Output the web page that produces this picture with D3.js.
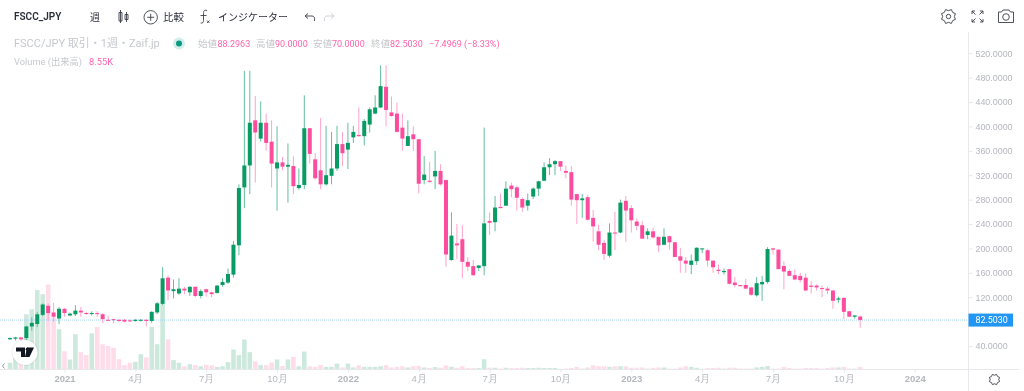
<!DOCTYPE html>
<html>
<head>
<meta charset="utf-8">
<script src="https://cdn.jsdelivr.net/npm/d3@7"></script>
<style>
  html, body { margin: 0; padding: 0; background: #fff; }
  svg { display: block; filter: blur(0.3px); font-family: Roboto, "Noto Sans CJK JP", sans-serif; }
</style>
</head>
<body>
<svg id="chart" width="1024" height="391"></svg>
<script>
// weekly FSCC/JPY
let opens = [51,52,54,53,72,76,91,106,95,85,101,90,92,98,94,93,94,92,83,84,
  83,83,82,81,82,83,81,95,109,152,130,126,134,128,137,122,133,128,127,140,
  144,157,205,300,336,410,380,406,375,331,341,334,335,299,304,397,346,328,305,319,
  331,371,362,382,386,384,403,421,431,465,423,421,398,368,387,379,312,311,318,327,
  312,181,208,215,178,171,168,171,245,243,268,270,303,300,281,270,285,298,311,333,
  338,343,327,325,289,279,284,250,228,209,188,226,226,278,266,244,238,222,228,219,
  206,220,210,187,180,173,179,199,197,180,165,161,166,144,140,140,136,123,141,145,
  200,198,171,163,156,155,152,139,139,135,134,131,116,119,97,88,88.2963];
let highs = [54,55,55,73,87,96,110,110,111,104,102,95,107,104,96,97,97,94,90,84,
  84,84,84,84,84,84,97,112,169,156,149,151,137,138,138,133,134,129,140,151,
  167,212,305,491,491,450,441,421,410,400,350,372,351,331,451,397,356,414,401,391,
  401,391,406,401,431,412,431,451,500,500,449,439,421,410,400,379,351,342,360,338,
  313,259,240,238,186,181,172,398,259,286,290,310,308,303,284,290,300,311,341,348,
  345,343,336,335,289,289,288,263,239,214,241,260,280,286,271,249,245,233,234,219,
  233,221,210,201,186,190,202,200,199,180,174,167,166,153,140,150,137,153,155,202,
  201,198,179,166,166,160,159,147,141,139,137,131,121,119,97,91,90];
let lows = [50,49,49,47,65,71,89,81,80,76,88,89,89,88,91,90,88,78,81,77,
  79,79,79,80,80,72,78,92,107,115,118,124,125,122,120,118,121,120,126,137,
  142,152,189,266,289,308,375,360,300,262,328,275,289,296,297,339,313,297,303,305,
  327,335,330,373,383,369,390,420,430,400,416,390,360,368,360,290,305,308,297,303,
  170,180,182,151,163,155,163,156,222,228,266,270,284,262,260,262,281,286,310,320,
  320,327,315,270,240,250,246,211,197,181,185,197,225,211,226,230,215,215,216,194,
  205,198,186,160,160,158,173,192,170,160,158,157,141,136,138,134,122,121,114,142,
  190,166,133,155,148,144,130,126,131,120,125,101,111,84,88,85,70];
let closes = [53,54,51,72,78,92,108,94,88,101,94,93,98,95,93,94,93,84,82,83,
  81,80,81,83,83,81,96,110,151,131,133,134,131,137,122,130,128,125,139,145,
  158,206,299,336,406,390,406,373,339,341,334,337,302,304,397,355,315,305,320,331,
  371,356,373,391,384,409,428,431,466,427,417,391,380,384,379,306,321,309,327,305,
  190,221,205,178,170,156,172,241,242,267,266,298,297,283,267,279,298,310,333,338,
  343,334,324,280,279,282,247,236,206,191,226,225,275,262,246,237,216,228,218,205,
  219,210,186,180,175,180,201,200,180,169,163,163,142,140,138,134,124,143,145,199,
  198,166,162,155,149,148,131,137,136,134,131,114,118,96,88,90,82.503];
// volume in thousands
let volumes = [23,40,26,188,205,270,256,289,177,137,62,34,120,59,49,123,145,86,80,74,
  35,15,23,26,52,41,145,86,222,102,32,23,11,18,15,11,16,14,9,11,
  25,68,49,102,59,28,15,15,24,34,12,34,43,11,61,11,9,15,9,9,
  20,7,20,7,14,9,9,9,11,15,7,9,11,7,11,12,7,5,8,6,
  14,9,6,11,5,5,5,35,6,6,3,6,5,5,6,5,5,6,5,5,
  5,2,3,5,9,3,7,14,11,11,9,11,11,11,6,6,7,3,6,7,
  7,3,3,7,11,9,6,2,5,5,6,3,6,6,3,3,3,7,9,12,
  3,3,9,5,3,3,5,5,5,3,5,7,7,9,3,3,8.55];

let priceTicks = [40,120,160,200,240,280,320,360,400,440,480,520];
let lastPrice = 82.503;

// 2021 falls on bar 10, one label every 13 weeks from there
let timeTickIdx = [10,23,36,49,62,75,88,101,114,127,140,153,166];
let timeTickLabels = ['2021','4月','7月','10月','2022','4月','7月','10月','2023','4月','7月','10月','2024'];
let yearLabels = ['2021','2022','2023','2024'];

let upColor = '#089c64', downColor = '#fb4c9d';
let upWick = '#62bf9c', downWick = '#ffa3cb';
let upVol = '#cde9dd', downVol = '#ffdcea';
let gray = '#b4b7bd', lineGray = '#e6e8ec';

let svg = d3.select('#chart');
let axisX = 968.5, axisY = 369.5;

let xPos = d3.scaleLinear().domain([0, 166]).range([10, 914.7]);
let yPos = d3.scaleLinear().domain([0, 520]).range([370.4, 53.2]);
let volY = d3.scaleLinear().domain([0, 300]).range([axisY, axisY - 88.2]);

let bars = opens.map((o, i) => ({
  i, o, h: highs[i], l: lows[i], c: closes[i], v: volumes[i], up: closes[i] >= o,
}));

// volume underneath
svg.append('g').selectAll('rect').data(bars).join('rect')
  .attr('x', (d) => xPos(d.i) - 2.3)
  .attr('width', 4.6)
  .attr('y', (d) => volY(d.v))
  .attr('height', (d) => axisY - volY(d.v))
  .attr('fill', (d) => (d.up ? upVol : downVol));

// last price line
svg.append('line')
  .attr('x1', 0).attr('x2', axisX)
  .attr('y1', yPos(lastPrice)).attr('y2', yPos(lastPrice))
  .attr('stroke', '#a5d9f7').attr('stroke-width', 1).attr('stroke-dasharray', '1 1');

// candles
let candles = svg.append('g').selectAll('g').data(bars).join('g');
candles.append('line')
  .attr('x1', (d) => xPos(d.i)).attr('x2', (d) => xPos(d.i))
  .attr('y1', (d) => yPos(d.h)).attr('y2', (d) => yPos(d.l))
  .attr('stroke', (d) => (d.up ? upWick : downWick));
candles.append('rect')
  .attr('x', (d) => xPos(d.i) - 2)
  .attr('width', 4)
  .attr('y', (d) => yPos(Math.max(d.o, d.c)))
  .attr('height', (d) => Math.max(1, Math.abs(yPos(d.o) - yPos(d.c))))
  .attr('fill', (d) => (d.up ? upColor : downColor));

// axes
let priceAxis = svg.append('g')
  .attr('transform', `translate(${axisX},0)`)
  .call(d3.axisRight(yPos).tickValues(priceTicks).tickFormat(d3.format('.4f')).tickSize(4).tickPadding(3));
priceAxis.select('.domain').remove();
priceAxis.selectAll('line').attr('stroke', lineGray);
priceAxis.selectAll('text').attr('fill', gray).style('font-size', '8.9px');

let timeAxis = svg.append('g')
  .attr('transform', `translate(0,${axisY})`)
  .call(d3.axisBottom(xPos).tickValues(timeTickIdx)
    .tickFormat((d, i) => timeTickLabels[i]).tickSize(3).tickPadding(3));
timeAxis.select('.domain').remove();
timeAxis.selectAll('line').attr('stroke', lineGray);
timeAxis.selectAll('text')
  .attr('fill', gray)
  .style('font-size', '9.5px')
  .style('font-weight', (d, i) => (yearLabels.includes(timeTickLabels[i]) ? 700 : 400));

svg.append('line').attr('x1', 0).attr('x2', 1019).attr('y1', axisY).attr('y2', axisY).attr('stroke', lineGray);
svg.append('line').attr('x1', axisX).attr('x2', axisX).attr('y1', 32).attr('y2', 391).attr('stroke', lineGray);

// last price tag
svg.append('rect')
  .attr('x', axisX).attr('width', 44.5)
  .attr('y', yPos(lastPrice) - 6.5).attr('height', 13)
  .attr('fill', '#2196f3');
svg.append('text')
  .attr('x', 975.5).attr('y', yPos(lastPrice) + 3.2)
  .attr('fill', '#fff').style('font-size', '8.9px')
  .text(d3.format('.4f')(lastPrice));

function label(x, y, txt, color, size, weight) {
  return svg.append('text').attr('x', x).attr('y', y).attr('fill', color)
    .style('font-size', size + 'px').style('font-weight', weight || 400).text(txt);
}

// toolbar
let dark = '#2a2e39';
label(14, 20, 'FSCC_JPY', dark, 10, 600);
label(90, 20.5, '週', dark, 10);
label(163, 20.5, '比較', dark, 10.5);
label(218, 20.5, 'インジケーター', dark, 10);

let icons = svg.append('g').attr('fill', 'none').attr('stroke', '#3a3e49').attr('stroke-width', 0.9);
icons.append('path').attr('d', 'M119 12.500h3v8.500h-3zM120.500 10v13M125 14.500h3v5h-3zM126.500 12v10');
icons.append('circle').attr('cx', 150.700).attr('cy', 17.300).attr('r', 6.700);
icons.append('path').attr('d', 'M147.200 17.300h7M150.700 13.800v7');
icons.append('path').attr('d', 'M207 10.500c-3-1-3.500 1-3.500 3v7c0 2-1 3-2.800 2.500M200.500 15.500h6');
icons.append('path').attr('d', 'M207 20.500l2.500 2.500M209.500 20.500l-2.500 2.500');
icons.append('path').attr('d', 'M305 16l3-2.500M305 16l3 2.500M305 16h7c2 0 3 1.500 2.500 5');
icons.append('path').attr('d', 'M334 16l-3-2.500M334 16l-3 2.500M334 16h-7c-2 0-3 1.500-2.500 5').attr('stroke', '#c9ccd2');
// gear, top right and bottom right
function gear(cx, cy, r) {
  let pts = d3.range(16).map((k) => {
    let a = (k * Math.PI) / 8;
    let rr = k % 2 ? r : r * 0.78;
    return [cx + rr * Math.cos(a), cy + rr * Math.sin(a)];
  });
  icons.append('path').attr('d', d3.line().curve(d3.curveLinearClosed)(pts));
}
gear(948.500, 16.500, 7.500);
icons.append('circle').attr('cx', 948.500).attr('cy', 16.500).attr('r', 2.200);
gear(994.500, 379.500, 5.500);
icons.append('path').attr('d', 'M972 11l3.500 3.500M972 11h3M972 11v3M983 11l-3.500 3.500M983 11h-3M983 11v3M972 22l3.500-3.500M972 22h3M972 22v-3M983 22l-3.500-3.500M983 22h-3M983 22v-3');
icons.append('path').attr('d', 'M998.500 12h3l1.500-2h6l1.500 2h3v10.500h-15z');
icons.append('circle').attr('cx', 1006).attr('cy', 17).attr('r', 3.300);

// legend rows
let soft = '#c6c8cd', pink = '#fc64ae';
label(14, 47, 'FSCC/JPY 取引・1週・Zaif.jp', soft, 11);
svg.append('circle').attr('cx', 179).attr('cy', 43.500).attr('r', 6).attr('fill', '#d3eeea');
svg.append('circle').attr('cx', 179).attr('cy', 43.500).attr('r', 3).attr('fill', '#089981');
label(198, 47, '始値', soft, 9.500);
label(217.500, 47, d3.format('.4f')(opens[156]), pink, 9);
label(256, 47, '高値', soft, 9.500);
label(275, 47, d3.format('.4f')(highs[156]), pink, 9);
label(313, 47, '安値', soft, 9.500);
label(332, 47, d3.format('.4f')(lows[156]), pink, 9);
label(371, 47, '終値', soft, 9.500);
label(390, 47, d3.format('.4f')(closes[156]), pink, 9);
label(429, 47, '−7.4969 (−8.33%)', pink, 9);
label(14, 64.500, 'Volume (出来高)', soft, 9.300);
label(89, 64.500, '8.55K', pink, 9.300);

// left scroll chevron
svg.append('path').attr('d', 'M4.500 363.500l-2 2.500 2 2.500').attr('fill', 'none').attr('stroke', '#9a9da5');

// logo badge
let logo = svg.append('g');
logo.append('circle').attr('cx', 25).attr('cy', 352.500).attr('r', 13.500).attr('fill', '#000').attr('opacity', 0.06);
logo.append('circle').attr('cx', 25).attr('cy', 352.500).attr('r', 12.500).attr('fill', '#fff');
logo.append('path').attr('fill', '#131722').attr('d', 'M16 347.500h9v9.500h-4v-5.500h-5zM27 347.500h7l-4.500 9.500h-4.500z');
logo.append('circle').attr('cx', 27.500).attr('cy', 349.300).attr('r', 1.800).attr('fill', '#131722');
</script>
</body>
</html>
